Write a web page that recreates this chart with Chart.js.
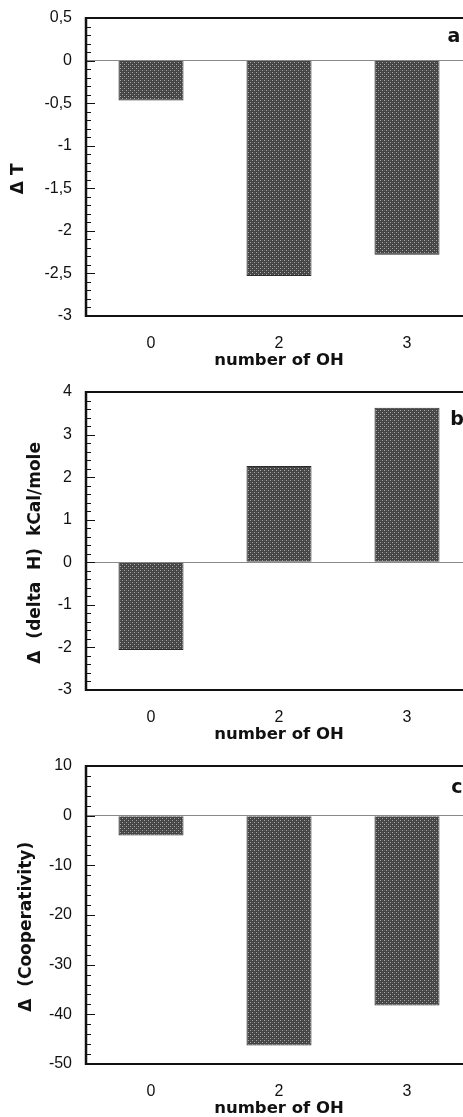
<!DOCTYPE html>
<html><head><meta charset="utf-8">
<script src="https://cdn.jsdelivr.net/npm/chart.js@4/dist/chart.umd.min.js"></script>
<style>
html,body{margin:0;padding:0;background:#fff;overflow:hidden;width:463px;height:1117px;position:relative;}
canvas{position:absolute;left:0;}
</style></head><body>
<canvas id="ca" width="473" height="374" style="top:0px"></canvas>
<canvas id="cb" width="473" height="374" style="top:374px"></canvas>
<canvas id="cc" width="473" height="374" style="top:748px"></canvas>
<script>
// ---- data ----
const categories = ['0', '2', '3'];
const deltaT = [-0.47, -2.53, -2.28];
const deltaH = [-2.06, 2.26, 3.63];
const deltaCoop = [-4.0, -46.3, -38.2];
const xTitle = 'number of OH';
const panelLetters = ['a', 'b', 'c'];
const yTitles = ['Δ T', 'Δ  (delta  H)  kCal/mole', 'Δ  (Cooperativity)'];
const yMins = [-3, -3, -50];
const yMaxs = [0.5, 4, 10];
const yMajorSteps = [0.5, 1, 10];
const yMinorSteps = [0.1, 0.2, 2];

// ---- styling / layout ----
const panels = [
  {id: 'ca', data: deltaT, padLeft: 8, letterDx: 367, letterDy: 19, comma: true},
  {id: 'cb', data: deltaH, padLeft: 25, letterDx: 370, letterDy: 28, comma: false},
  {id: 'cc', data: deltaCoop, padLeft: 16, letterDx: 370, letterDy: 22, comma: false}
];
const PLOT_LEFT = 87;

function makePattern(ctx) {
  const c = document.createElement('canvas');
  c.width = 4; c.height = 4;
  const g = c.getContext('2d');
  g.fillStyle = '#444444'; g.fillRect(0, 0, 4, 4);
  g.fillStyle = '#a8a8a8'; g.fillRect(0, 0, 1, 1); g.fillRect(2, 2, 1, 1);
  g.fillStyle = '#5a5a5a'; g.fillRect(2, 0, 1, 1); g.fillRect(0, 2, 1, 1);
  return ctx.createPattern(c, 'repeat');
}

const framePlugin = {
  id: 'frame',
  afterDatasetsDraw(chart, args, opts) {
    const {ctx, chartArea: {left, right, top, bottom}} = chart;
    const y = chart.scales.y;
    ctx.save();
    ctx.strokeStyle = '#111';
    ctx.lineWidth = 1;
    const n = Math.round((y.max - y.min) / opts.minor);
    for (let i = 0; i <= n; i++) {
      const v = y.min + i * opts.minor;
      const r = v / opts.major;
      const major = Math.abs(r - Math.round(r)) < 1e-6;
      const py = Math.round(y.getPixelForValue(v)) + 0.5;
      ctx.beginPath();
      ctx.moveTo(left, py);
      ctx.lineTo(left + (major ? 8 : 4), py);
      ctx.stroke();
    }
    ctx.lineWidth = 2;
    ctx.beginPath();
    ctx.moveTo(left - 1, top); ctx.lineTo(right + 5, top);
    ctx.moveTo(left - 1, bottom); ctx.lineTo(right + 5, bottom);
    ctx.stroke();
    ctx.lineWidth = 2.5;
    ctx.beginPath();
    ctx.moveTo(left - 1, top - 1); ctx.lineTo(left - 1, bottom + 1);
    ctx.stroke();
    ctx.fillStyle = '#111';
    ctx.font = 'bold 19px "DejaVu Sans"';
    ctx.textAlign = 'center';
    ctx.textBaseline = 'middle';
    ctx.fillText(opts.letter, left + opts.dx, top + opts.dy);
    ctx.restore();
  }
};

panels.forEach((p, i) => {
  const canvas = document.getElementById(p.id);
  const ctx = canvas.getContext('2d');
  new Chart(ctx, {
    type: 'bar',
    data: {
      labels: categories,
      datasets: [{
        data: p.data,
        backgroundColor: makePattern(ctx),
        borderColor: '#2a2a2a',
        borderWidth: 1,
        categoryPercentage: 1,
        barPercentage: 0.508
      }]
    },
    options: {
      responsive: false,
      animation: false,
      events: [],
      layout: {padding: {left: p.padLeft, right: 2, top: 18, bottom: 3}},
      plugins: {
        legend: {display: false},
        tooltip: {enabled: false},
        frame: {minor: yMinorSteps[i], major: yMajorSteps[i], letter: panelLetters[i], dx: p.letterDx, dy: p.letterDy}
      },
      scales: {
        x: {
          grid: {display: false},
          border: {display: false},
          ticks: {color: '#111', padding: 10, font: {family: '"Liberation Sans"', size: 16}},
          title: {display: true, text: xTitle, color: '#111', padding: 0,
                  font: {family: '"DejaVu Sans"', size: 16.5, weight: 'bold'}},
          afterFit(scale) { scale.height = 55; }
        },
        y: {
          min: yMins[i],
          max: yMaxs[i],
          grid: {
            drawTicks: false,
            lineWidth: 1,
            color: (c) => (c.tick && c.tick.value === 0) ? '#8a8a8a' : 'rgba(0,0,0,0)'
          },
          border: {display: false},
          ticks: {
            stepSize: yMajorSteps[i],
            color: '#111',
            padding: 15,
            font: {family: '"Liberation Sans"', size: 16},
            callback: (v) => {
              const s = String(Math.round(v * 100) / 100);
              return p.comma ? s.replace('.', ',') : s;
            }
          },
          title: {display: true, text: yTitles[i] + '    ', color: '#111', padding: 0,
                  font: {family: '"DejaVu Sans"', size: 17, weight: 'bold'}},
          afterFit(scale) {
            scale.width = PLOT_LEFT - p.padLeft;
            scale.paddingTop = 0;
            scale.paddingBottom = 0;
          }
        }
      }
    },
    plugins: [framePlugin]
  });
});
</script>
</body></html>
